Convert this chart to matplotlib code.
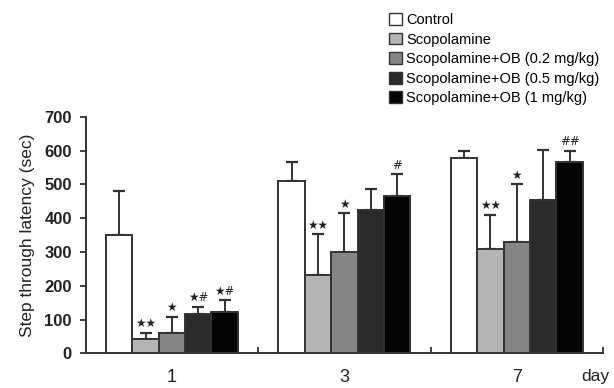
import numpy as np
import matplotlib.pyplot as plt
from matplotlib.patches import Patch

days = ["1", "3", "7"]
groups = ["Control", "Scopolamine", "Scopolamine+OB (0.2 mg/kg)",
          "Scopolamine+OB (0.5 mg/kg)", "Scopolamine+OB (1 mg/kg)"]
colors = ["#ffffff", "#b4b4b4", "#858585", "#2b2b2b", "#050505"]

control = [350, 509, 579]
control_err = [130, 57, 19]
scop = [41, 231, 309]
scop_err = [19, 121, 101]
ob02 = [59, 301, 329]
ob02_err = [49, 113, 171]
ob05 = [117, 423, 454]
ob05_err = [21, 64, 148]
ob1 = [121, 467, 566]
ob1_err = [36, 63, 34]

marks = [["", "★★", "★", "★#", "★#"],
         ["", "★★", "★", "", "#"],
         ["", "★★", "★", "", "##"]]

means = [control, scop, ob02, ob05, ob1]
errs = [control_err, scop_err, ob02_err, ob05_err, ob1_err]

plt.rcParams['font.family'] = ['Liberation Sans', 'DejaVu Sans']
fig = plt.figure(figsize=(6.14, 3.88), dpi=100)
ax = fig.add_axes([0.1396, 0.0894, 0.8424, 0.6096])

width = 0.153
x = np.arange(len(days)) + 0.5
edge = "#333333"

for i, (m, e, c) in enumerate(zip(means, errs, colors)):
    pos = x + (i - 2) * width
    ax.bar(pos, m, width, color=c, edgecolor=edge, linewidth=1.4, zorder=2)
    ax.errorbar(pos, m, yerr=[np.zeros(len(m)), e], fmt="none", ecolor=edge,
                elinewidth=1.4, capsize=4, capthick=1.6, zorder=1)
    for j in range(len(days)):
        txt = marks[j][i]
        if txt:
            ax.text(pos[j], m[j] + e[j] + 8, txt, ha="center", va="bottom",
                    fontsize=8.5, color="#222222", family="DejaVu Sans")

ax.set_xlim(0, 3)
ax.set_ylim(0, 700)
ax.set_yticks(range(0, 701, 100))
ax.set_xticks(x)
ax.set_xticklabels(days)
ax.set_xticks([1, 2, 3], minor=True)
ax.tick_params(axis="x", which="major", length=0, pad=11, labelsize=13, labelcolor="#222222")
ax.tick_params(axis="x", which="minor", direction="in", length=4, width=1.3, color=edge)
ax.tick_params(axis="y", direction="out", length=4, width=1.3, color=edge,
               labelsize=12, labelcolor="#222222", pad=6)
for lbl in ax.get_yticklabels():
    lbl.set_fontweight("bold")
for s in ["top", "right"]:
    ax.spines[s].set_visible(False)
for s in ["left", "bottom"]:
    ax.spines[s].set_linewidth(1.4)
    ax.spines[s].set_color(edge)

ax.set_ylabel("Step through latency (sec)", fontsize=12.5, color="#222222", labelpad=7)
fig.text(0.97, 0.018, "day", fontsize=12.5, color="#222222", ha="center")

handles = [Patch(facecolor=c, edgecolor=edge, linewidth=1.0) for c in colors]
fig.legend(handles, groups, loc="upper left", bbox_to_anchor=(0.622, 0.985),
           frameon=False, fontsize=10.5, handlelength=0.85, handleheight=0.85,
           handletextpad=0.3, labelspacing=0.38, borderpad=0)

fig.savefig("out.png", dpi=100)
